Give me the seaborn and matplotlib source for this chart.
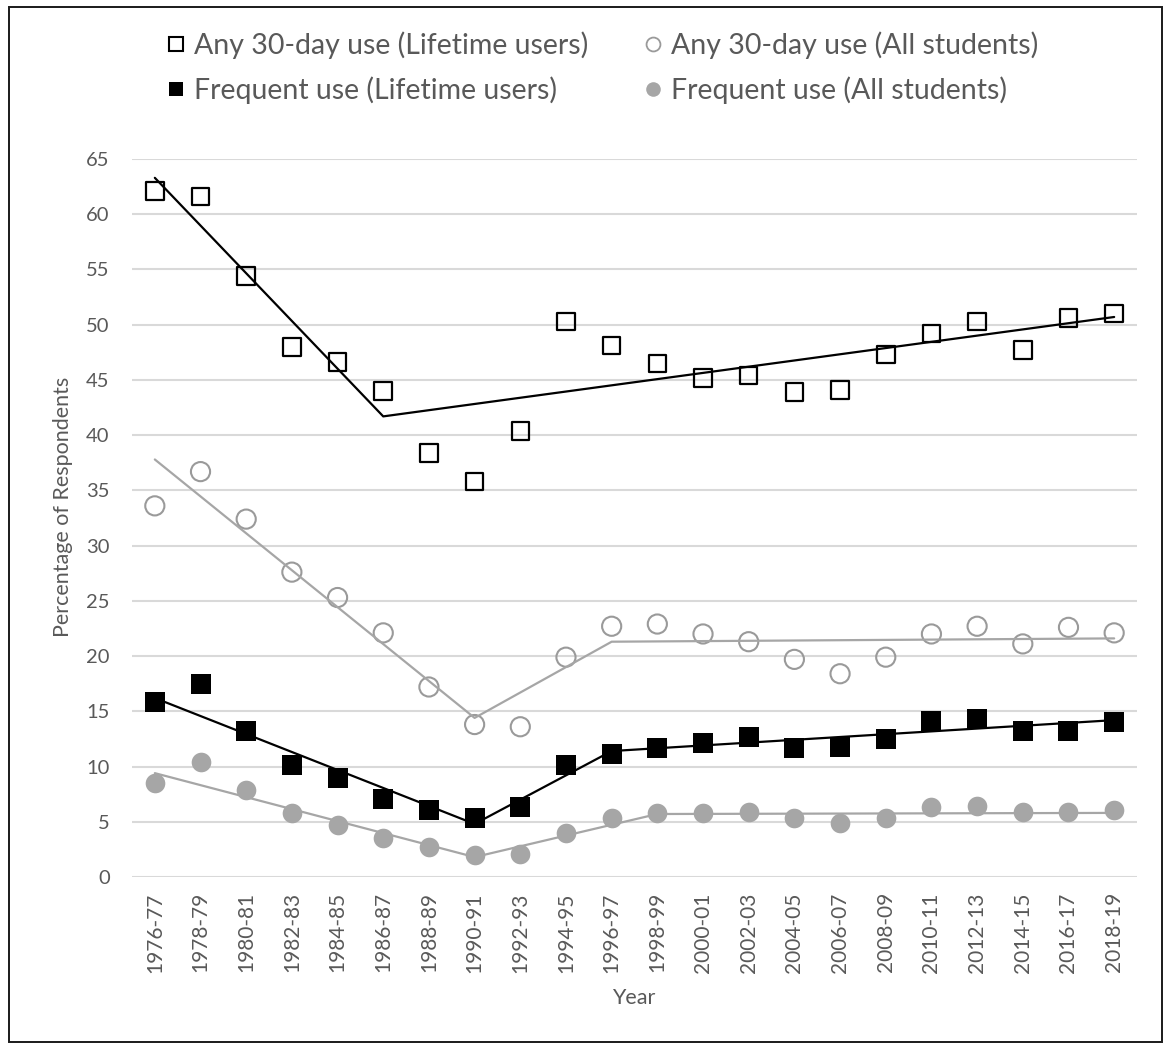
import matplotlib
matplotlib.use("Agg")
import matplotlib.pyplot as plt
import seaborn as sns
import pandas as pd
from matplotlib.lines import Line2D
from matplotlib.patches import Rectangle

# Survey periods
periods = ["1976-77", "1978-79", "1980-81", "1982-83", "1984-85", "1986-87",
           "1988-89", "1990-91", "1992-93", "1994-95", "1996-97", "1998-99",
           "2000-01", "2002-03", "2004-05", "2006-07", "2008-09", "2010-11",
           "2012-13", "2014-15", "2016-17", "2018-19"]

# Percentages per period
any_lifetime = [62.1, 61.6, 54.4, 48.0, 46.6, 44.0, 38.4, 35.8, 40.4, 50.3, 48.1,
                46.5, 45.2, 45.4, 43.9, 44.1, 47.3, 49.2, 50.3, 47.7, 50.6, 51.0]
any_all = [33.6, 36.7, 32.4, 27.6, 25.3, 22.1, 17.2, 13.8, 13.6, 19.9, 22.7,
           22.9, 22.0, 21.3, 19.7, 18.4, 19.9, 22.0, 22.7, 21.1, 22.6, 22.1]
freq_lifetime = [15.8, 17.5, 13.2, 10.1, 9.0, 7.1, 6.1, 5.3, 6.3, 10.1, 11.1,
                 11.7, 12.1, 12.7, 11.7, 11.8, 12.5, 14.1, 14.3, 13.2, 13.2, 14.0]
freq_all = [8.5, 10.4, 7.9, 5.8, 4.7, 3.5, 2.75, 2.0, 2.1, 4.0, 5.3,
            5.75, 5.8, 5.9, 5.3, 4.85, 5.3, 6.3, 6.4, 5.9, 5.9, 6.05]

# Joinpoint trend fits (value at each joinpoint)
trend_any_lifetime_at = ["1976-77", "1986-87", "2018-19"]
trend_any_lifetime = [63.3, 41.7, 50.7]
trend_any_all_at = ["1976-77", "1990-91", "1996-97", "2018-19"]
trend_any_all = [37.8, 14.4, 21.3, 21.6]
trend_freq_lifetime_at = ["1976-77", "1990-91", "1996-97", "2018-19"]
trend_freq_lifetime = [16.2, 4.8, 11.4, 14.2]
trend_freq_all_at = ["1976-77", "1990-91", "1998-99", "2018-19"]
trend_freq_all = [9.4, 1.8, 5.7, 5.8]

y_ticks = list(range(0, 70, 5))

labels = ["Any 30-day use (Lifetime users)", "Frequent use (Lifetime users)",
          "Any 30-day use (All students)", "Frequent use (All students)"]

sns.set_theme(style="white")
plt.rcParams["font.family"] = ["Lato", "DejaVu Sans"]

GRAY = "#a6a6a6"
TEXT = "#595959"

pos = {p: i for i, p in enumerate(periods)}
points = pd.DataFrame({
    "x": [pos[p] for p in periods],
    "any_lifetime": any_lifetime,
    "any_all": any_all,
    "freq_lifetime": freq_lifetime,
    "freq_all": freq_all,
})

def trend_frame(at, vals):
    return pd.DataFrame({"x": [pos[p] for p in at], "y": vals})

fig = plt.figure(figsize=(11.67, 10.45), dpi=100)
ax = fig.add_axes([0.1131, 0.1608, 0.8612, 0.687])

# Observed points
sns.scatterplot(data=points, x="x", y="any_lifetime", ax=ax, marker="s", s=160,
                facecolor="none", edgecolor="black", linewidth=1.6)
sns.scatterplot(data=points, x="x", y="any_all", ax=ax, marker="o", s=190,
                facecolor="none", edgecolor="#9a9a9a", linewidth=1.5)
sns.scatterplot(data=points, x="x", y="freq_lifetime", ax=ax, marker="s", s=200,
                color="black", edgecolor="black", linewidth=0)
sns.scatterplot(data=points, x="x", y="freq_all", ax=ax, marker="o", s=200,
                color=GRAY, edgecolor=GRAY, linewidth=0)

# Joinpoint trend lines
sns.lineplot(data=trend_frame(trend_any_lifetime_at, trend_any_lifetime), x="x", y="y",
             ax=ax, color="black", linewidth=1.6)
sns.lineplot(data=trend_frame(trend_any_all_at, trend_any_all), x="x", y="y",
             ax=ax, color=GRAY, linewidth=1.6)
sns.lineplot(data=trend_frame(trend_freq_lifetime_at, trend_freq_lifetime), x="x", y="y",
             ax=ax, color="black", linewidth=1.6)
sns.lineplot(data=trend_frame(trend_freq_all_at, trend_freq_all), x="x", y="y",
             ax=ax, color=GRAY, linewidth=1.6)

ax.set_xlim(-0.5, len(periods) - 0.5)
ax.set_ylim(0, 65)
ax.set_yticks(y_ticks)
ax.set_yticklabels([str(v) for v in y_ticks], fontsize=14.5, color=TEXT)
ax.set_xticks(range(len(periods)))
ax.set_xticklabels(periods, rotation=90, fontsize=15, color=TEXT)
ax.tick_params(axis="both", length=0)
ax.tick_params(axis="y", pad=16)
ax.tick_params(axis="x", pad=11)
ax.set_xlabel("")
ax.set_ylabel("")
ax.grid(axis="y", color="#d9d9d9", linewidth=1.5)
ax.grid(axis="x", visible=False)
ax.set_axisbelow(True)
for sp in ax.spines.values():
    sp.set_visible(False)

fig.text(63 / 1167, 1 - 507 / 1045, "Percentage of Respondents", rotation=90,
         ha="center", va="center", fontsize=15.5, color=TEXT)
fig.text(634 / 1167, 1 - 998 / 1045, "Year", ha="center", va="center",
         fontsize=15.5, color=TEXT)

handles = [
    Line2D([], [], marker="s", linestyle="none", markersize=10,
           markerfacecolor="none", markeredgecolor="black", markeredgewidth=1.5),
    Line2D([], [], marker="s", linestyle="none", markersize=10,
           markerfacecolor="black", markeredgecolor="black", markeredgewidth=0),
    Line2D([], [], marker="o", linestyle="none", markersize=10,
           markerfacecolor="none", markeredgecolor="#9a9a9a", markeredgewidth=1.3),
    Line2D([], [], marker="o", linestyle="none", markersize=10.5,
           markerfacecolor=GRAY, markeredgecolor=GRAY, markeredgewidth=0),
]
leg = fig.legend(handles, labels, ncol=2, loc="upper left",
                 bbox_to_anchor=(166 / 1167, 1 - 31 / 1045), frameon=False,
                 fontsize=20.5, handlelength=0.7, handletextpad=0.3,
                 columnspacing=1.9, labelspacing=0.62, borderpad=0, borderaxespad=0)
for t in leg.get_texts():
    t.set_color(TEXT)

# Chart area border
fig.patches.append(Rectangle((9 / 1167, 1 - 1042 / 1045), (1162 - 9) / 1167,
                             (1042 - 7) / 1045, transform=fig.transFigure,
                             fill=False, edgecolor="#1a1a1a", linewidth=1.4))

fig.savefig("out.png", dpi=100)
